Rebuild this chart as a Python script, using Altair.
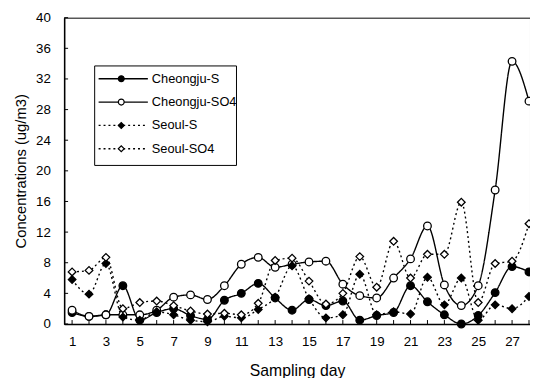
import altair as alt
import pandas as pd

days = list(range(1, 29))
series_names = ["Cheongju-S", "Cheongju-SO4", "Seoul-S", "Seoul-SO4"]
cheongju_s = [1.5, 1.0, 1.2, 5.0, 0.5, 1.5, 2.0, 1.1, 0.6, 3.1, 4.0, 5.3, 3.4, 1.8,
              3.2, 2.4, 3.0, 0.5, 1.1, 1.5, 5.0, 2.9, 1.2, 0.0, 1.1, 4.1, 7.5, 6.8]
cheongju_so4 = [1.8, 1.0, 1.2, 1.2, 1.2, 1.8, 3.5, 3.8, 3.2, 5.0, 7.8, 8.7, 7.4, 7.8,
                8.1, 8.2, 5.2, 3.7, 3.4, 6.0, 8.5, 12.8, 5.1, 2.4, 5.0, 17.5, 34.3, 29.1]
seoul_s = [5.8, 3.9, 7.9, 0.9, 0.5, 1.6, 1.2, 0.5, 0.3, 1.0, 0.8, 1.9, 3.5, 7.6,
           3.3, 0.8, 1.2, 6.5, 1.2, 1.6, 1.3, 6.1, 2.5, 6.0, 0.5, 2.5, 2.0, 3.6]
seoul_so4 = [6.8, 7.0, 8.7, 2.0, 2.8, 3.0, 2.4, 1.7, 1.3, 1.4, 1.2, 2.7, 8.3, 8.6,
             5.6, 2.6, 4.0, 8.8, 4.8, 10.8, 6.0, 9.1, 9.1, 15.9, 2.8, 7.9, 8.2, 13.1]
x_tick_labels = [1, 3, 5, 7, 9, 11, 13, 15, 17, 19, 21, 23, 25, 27]
y_tick_labels = [0, 4, 8, 12, 16, 20, 24, 28, 32, 36, 40]

rows = []
for name, vals in zip(series_names, [cheongju_s, cheongju_so4, seoul_s, seoul_so4]):
    for d, v in zip(days, vals):
        rows.append({"day": d, "value": v, "series": name})
df = pd.DataFrame(rows)

W, H = 473, 311
FONT = "Liberation Sans"

x_scale = alt.Scale(domain=[0.53, 28.06], nice=False, zero=False)
y_scale = alt.Scale(domain=[0, 40], nice=False)
dash_scale = alt.Scale(domain=series_names, range=[[1, 0], [1, 0], [2, 3], [2, 3]])
shape_scale = alt.Scale(domain=series_names, range=["circle", "circle", "diamond", "diamond"])
fill_scale = alt.Scale(domain=series_names, range=["black", "white", "black", "white"])

x_axis = alt.Axis(values=x_tick_labels, title="Sampling day", ticks=False,
                  labelOverlap=False, labelFlush=False,
                  labelPadding=11, titlePadding=15, labelFontSize=13.5,
                  titleFontSize=16, titleFontWeight="normal")
y_axis = alt.Axis(values=y_tick_labels, title="Concentrations (ug/m3)", ticks=False,
                  labelOverlap=False, labelFlush=False,
                  labelPadding=14, titlePadding=7, labelFontSize=13.5,
                  titleFontSize=15, titleFontWeight="normal")
x_enc = alt.X("day:Q", scale=x_scale, axis=x_axis)
y_enc = alt.Y("value:Q", scale=y_scale, axis=y_axis)

base = alt.Chart(df)
lines = base.mark_line(interpolate="monotone", color="black", strokeWidth=1.4).encode(
    x=x_enc, y=y_enc,
    strokeDash=alt.StrokeDash("series:N", scale=dash_scale, legend=None),
    detail="series:N",
)
points = base.mark_point(filled=True, stroke="black", strokeWidth=1.3, size=60, opacity=1).encode(
    x=x_enc, y=y_enc,
    shape=alt.Shape("series:N", scale=shape_scale, legend=None),
    fill=alt.Fill("series:N", scale=fill_scale, legend=None),
)

# inward ticks
xt = alt.Chart(pd.DataFrame({"day": days})).mark_rule(color="black", strokeWidth=1).encode(
    x=x_enc, y=alt.value(H), y2=alt.value(H - 4))
yt = alt.Chart(pd.DataFrame({"value": y_tick_labels})).mark_rule(color="black", strokeWidth=1).encode(
    y=y_enc, x=alt.value(0), x2=alt.value(4))

# legend box
layers = [lines, points, xt, yt]
box = alt.Chart(pd.DataFrame({"a": [0]})).mark_rect(fill="white", stroke="black", strokeWidth=1).encode(
    x=alt.value(31), x2=alt.value(175), y=alt.value(49), y2=alt.value(150))
layers.append(box)
for i, name in enumerate(series_names):
    yy = 62 + i * 23.7
    ld = alt.Chart(pd.DataFrame({"series": [name]}))
    layers.append(ld.mark_rule(color="black", strokeWidth=1.4).encode(
        x=alt.value(35), x2=alt.value(85), y=alt.value(yy),
        strokeDash=alt.StrokeDash("series:N", scale=dash_scale, legend=None)))
    layers.append(ld.mark_point(filled=True, stroke="black", strokeWidth=1.2, size=36, opacity=1).encode(
        x=alt.value(58), y=alt.value(yy),
        shape=alt.Shape("series:N", scale=shape_scale, legend=None),
        fill=alt.Fill("series:N", scale=fill_scale, legend=None)))
    layers.append(ld.mark_text(align="left", baseline="middle", font=FONT, fontSize=13, color="black").encode(
        x=alt.value(89), y=alt.value(yy), text="series:N"))

chart = alt.layer(*layers).properties(
    width=W, height=H,
    autosize=alt.AutoSizeParams(type="none"),
    padding={"left": 57, "top": 7, "right": 0, "bottom": 52},
    background="white",
).configure_view(stroke="black", strokeWidth=1).configure_axis(
    grid=False, domainColor="black", domainWidth=1.5, labelColor="black", titleColor="black",
    labelFont=FONT, titleFont=FONT,
)

chart.save("out.html", embed_options={"renderer": "svg", "actions": False})
